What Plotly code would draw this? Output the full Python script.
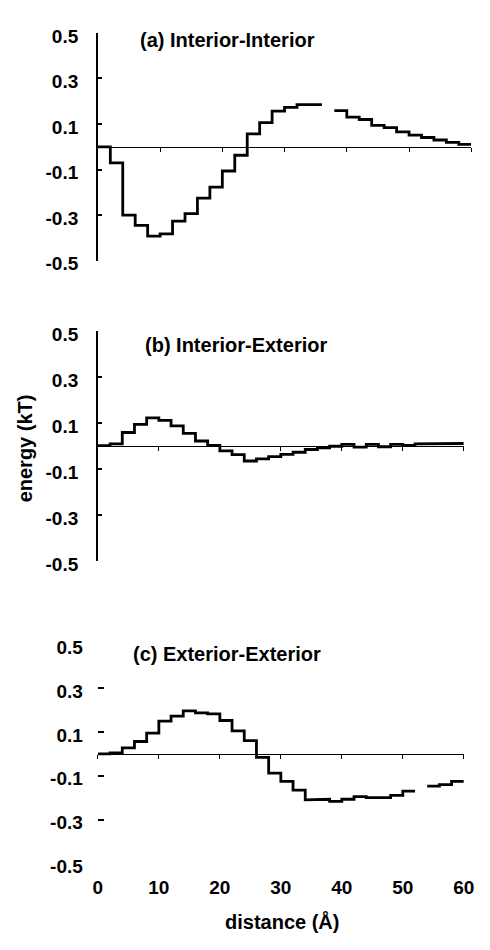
import plotly.graph_objects as go

# Bin edges along the distance axis (Å), 2 Å bins from 0 to 60
distance_edges = list(range(0, 62, 2))

# Mean interaction energy (kT) per distance bin; None = no value in that bin
interior_interior = [0.0, -0.07, -0.30, -0.345, -0.392, -0.382, -0.326, -0.293,
                     -0.225, -0.177, -0.106, -0.037, 0.057, 0.106, 0.157, 0.173,
                     0.185, 0.185, None, 0.159, 0.130, 0.120, 0.094, 0.084,
                     0.066, 0.051, 0.041, 0.030, 0.020, 0.011]
interior_exterior = [0.003, 0.01, 0.06, 0.095, 0.124, 0.113, 0.089, 0.056,
                     0.023, 0.004, -0.02, -0.036, -0.064, -0.055, -0.045, -0.035,
                     -0.026, -0.014, -0.007, 0.0, 0.008, -0.004, 0.008, -0.002,
                     0.008, 0.004, 0.01, 0.01, 0.012, 0.012]
exterior_exterior = [0.0, 0.005, 0.028, 0.057, 0.095, 0.150, 0.173, 0.197,
                     0.188, 0.183, 0.153, 0.106, 0.061, -0.016, -0.088, -0.125,
                     -0.165, -0.21, -0.207, -0.217, -0.207, -0.195, -0.2, -0.2,
                     -0.189, -0.17, None, -0.147, -0.14, -0.125]

panel_titles = ["(a) Interior-Interior", "(b) Interior-Exterior", "(c) Exterior-Exterior"]
y_ticks = [0.5, 0.3, 0.1, -0.1, -0.3, -0.5]
y_ticktext = ["0.5", "0.3", "0.1", "-0.1", "-0.3", "-0.5"]
x_ticks = [0, 10, 20, 30, 40, 50, 60]
x_ticktext = ["0", "10", "20", "30", "40", "50", "60"]
y_title = "energy (kT)"
x_title = "distance (Å)"

W, H = 490, 950
FONT = "Liberation Sans"
TICK_FONT = dict(family=FONT, size=19, color="black", weight="bold")
TEXT_FONT = dict(family=FONT, size=20, color="black", weight="bold")
Y_RANGE = [-0.5, 0.5]
X_RANGE = [0, 60]


def step_path(edges, values):
    """Histogram-style outline: flat across each bin, vertical between bins."""
    xs, ys = [], []
    for left, right, v in zip(edges[:-1], edges[1:], values):
        if v is None:
            xs.append(None)
            ys.append(None)
            continue
        xs += [left, right]
        ys += [v, v]
    return xs, ys


def px_x(p):
    return p / W


def px_y(p):
    return 1 - p / H


# plot areas in pixels: (left, right, top(y=0.5), bottom(y=-0.5))
panels = [
    (96, 482, 26.5, 259.5),
    (96, 474.3, 331.7, 566.7),
    (96, 474.3, 652, 875.7),
]
title_pos = [(137, 34), (143, 346), (130, 662)]

series = [interior_interior, interior_exterior, exterior_exterior]

fig = go.Figure()
layout = dict(
    width=W, height=H,
    margin=dict(l=0, r=0, t=0, b=0),
    paper_bgcolor="white", plot_bgcolor="rgba(0,0,0,0)",
    showlegend=False,
    font=dict(family=FONT, color="black"),
)

annotations = []
for k, ((l, r, t, b), vals) in enumerate(zip(panels, series), start=1):
    xs, ys = step_path(distance_edges, vals)
    fig.add_trace(go.Scatter(
        x=xs, y=ys, mode="lines",
        line=dict(color="black", width=2.8),
        xaxis=f"x{k}", yaxis=f"y{k}",
        connectgaps=False, hoverinfo="skip",
    ))
    ydom = [px_y(b), px_y(t)]
    zero_pos = ydom[0] + (0 - Y_RANGE[0]) / (Y_RANGE[1] - Y_RANGE[0]) * (ydom[1] - ydom[0])
    sfx = "" if k == 1 else str(k)
    layout[f"xaxis{sfx}"] = dict(
        domain=[px_x(l), px_x(r)], range=X_RANGE,
        anchor="free", position=zero_pos,
        showline=True, linecolor="black", linewidth=1.3,
        ticks="outside", ticklen=4, tickwidth=1.3, tickcolor="black",
        tickvals=x_ticks, showticklabels=False,
        showgrid=False, zeroline=False, fixedrange=True,
    )
    last = (k == 3)
    layout[f"yaxis{sfx}"] = dict(
        domain=ydom, range=Y_RANGE, anchor=f"x{k}",
        showline=not last, linecolor="black", linewidth=1.6,
        ticks="inside", ticklen=6 if last else 4, tickwidth=1.6,
        tickcolor="black",
        tickvals=y_ticks[1:] if last else y_ticks,
        ticktext=y_ticktext[1:] if last else y_ticktext,
        tickfont=TICK_FONT,
        ticklabelstandoff=14, ticklabelshift=3,
        showgrid=False, zeroline=False, fixedrange=True,
    )
    tx, ty = title_pos[k - 1]
    annotations.append(dict(
        text=panel_titles[k - 1], x=px_x(tx), y=px_y(ty),
        xref="paper", yref="paper", xanchor="left", yanchor="middle",
        showarrow=False, font=TEXT_FONT,
    ))

# Bottom panel: distance labels below the plot, and the top "0.5" label without a tick mark
fig.add_trace(go.Scatter(x=[None], y=[None], xaxis="x4", yaxis="y3",
                         mode="lines", hoverinfo="skip"))
fig.add_trace(go.Scatter(x=[None], y=[None], xaxis="x3", yaxis="y4",
                         mode="lines", hoverinfo="skip"))
layout["xaxis4"] = dict(
    overlaying="x3", anchor="y3", side="bottom", range=X_RANGE,
    showline=False, ticks="", tickvals=x_ticks, ticktext=x_ticktext,
    tickfont=TICK_FONT,
    ticklabelstandoff=11,
    showgrid=False, zeroline=False, fixedrange=True,
)
layout["yaxis4"] = dict(
    overlaying="y3", anchor="x3", side="left", range=Y_RANGE,
    showline=False, ticks="", tickvals=y_ticks[:1], ticktext=y_ticktext[:1],
    tickfont=TICK_FONT,
    ticklabelstandoff=14, ticklabelshift=3,
    showgrid=False, zeroline=False, fixedrange=True,
)

annotations.append(dict(
    text=y_title, x=px_x(21), y=px_y(451), xref="paper", yref="paper",
    xanchor="center", yanchor="middle", textangle=-90, showarrow=False,
    font=TEXT_FONT,
))
annotations.append(dict(
    text=x_title, x=px_x(286), y=px_y(935), xref="paper", yref="paper",
    xanchor="center", yanchor="middle", showarrow=False,
    font=TEXT_FONT,
))
layout["annotations"] = annotations

fig.update_layout(**layout)
fig.write_html("out.html")
